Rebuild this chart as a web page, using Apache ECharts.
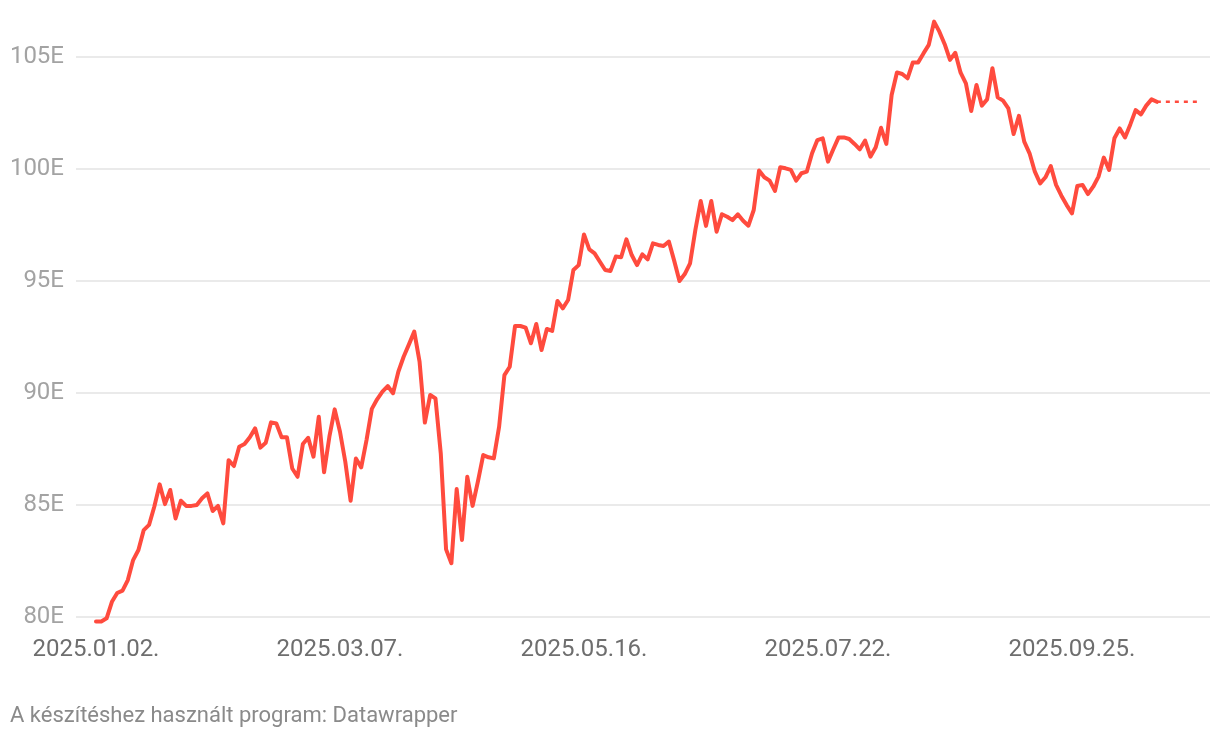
<!DOCTYPE html>
<html>
<head>
<meta charset="utf-8">
<script src="https://cdn.jsdelivr.net/npm/echarts@6/dist/echarts.min.js"></script>
<style>
html,body{margin:0;padding:0;background:#fff;}
#chart{width:1220px;height:738px;}
</style>
</head>
<body>
<div id="chart"></div>
<script>
// Trading-day index of each x tick and its label
var tickIndex = [0, 46, 92, 138, 184];
var tickLabels = ['2025.01.02.', '2025.03.07.', '2025.05.16.', '2025.07.22.', '2025.09.25.'];
var yTicks = [80000, 85000, 90000, 95000, 100000, 105000];

// Index values (one per trading day, from 2025.01.02.)
var values = [
  79800, 79800, 79940, 80680, 81070, 81180, 81650, 82540, 82990, 83880,
  84110, 84930, 85920, 85040, 85670, 84400, 85190, 84960, 84960, 85000,
  85300, 85520, 84730, 84960, 84180, 87000, 86740, 87600, 87720, 88020,
  88420, 87560, 87780, 88690, 88640, 88020, 88020, 86630, 86260, 87720,
  88000, 87160, 88940, 86460, 88050, 89270, 88270, 86930, 85190, 87080,
  86680, 87900, 89290, 89720, 90060, 90310, 89990, 90950, 91620, 92170,
  92740, 91400, 88680, 89910, 89760, 87300, 83020, 82400, 85710, 83440,
  86260, 84960, 86050, 87230, 87130, 87080, 88500, 90800, 91170, 92990,
  92990, 92920, 92220, 93080, 91920, 92860, 92770, 94110, 93780, 94150,
  95490, 95710, 97080, 96410, 96230, 95860, 95490, 95450, 96090, 96060,
  96860, 96160, 95710, 96190, 95970, 96680, 96610, 96560, 96760, 95910,
  95000, 95310, 95790, 97280, 98570, 97460, 98570, 97200, 97980, 97870,
  97720, 97980, 97690, 97470, 98170, 99930, 99630, 99480, 99020, 100080,
  100030, 99960, 99480, 99810, 99880, 100700, 101290, 101370, 100330, 100880,
  101410, 101410, 101340, 101120, 100880, 101270, 100550, 100970, 101840, 101120,
  103300, 104310, 104240, 104050, 104760, 104760, 105160, 105540, 106580, 106130,
  105570, 104870, 105190, 104300, 103820, 102590, 103750, 102830, 103110, 104500,
  103200, 103050, 102710, 101560, 102370, 101220, 100700, 99880, 99360, 99630,
  100130, 99290, 98810, 98390, 98020, 99240, 99290, 98880, 99210, 99660,
  100510, 99960, 101370, 101810, 101410, 101990, 102630, 102440, 102830, 103110,
  103000
];
// Dotted extension: last value carried to the end of the axis
var extensionDays = 8;

var solidData = values.map(function (v, i) { return [i, v]; });
var lastIdx = values.length - 1;
var dottedData = [];
for (var k = 0; k <= extensionDays; k++) {
  dottedData.push([lastIdx + k, values[lastIdx]]);
}

var chart = echarts.init(document.getElementById('chart'), null, {renderer: 'canvas'});
var fontFamily = 'Roboto, "Noto Sans", sans-serif';
var option = {
  animation: false,
  backgroundColor: '#ffffff',
  grid: {left: 76, right: 10, top: 57, bottom: 121, containLabel: false},
  xAxis: {
    type: 'value',
    min: -3.77,
    max: 210.02,
    axisLine: {show: false},
    axisTick: {show: false},
    splitLine: {show: false},
    axisLabel: {
      customValues: tickIndex,
      margin: 21,
      fontSize: 24,
      fontFamily: fontFamily,
      color: '#6e6e6e',
      formatter: function (v) {
        var p = tickIndex.indexOf(Math.round(v));
        return p >= 0 ? tickLabels[p] : '';
      }
    }
  },
  yAxis: {
    type: 'value',
    min: yTicks[0],
    max: yTicks[yTicks.length - 1],
    interval: 5000,
    axisLine: {show: false},
    axisTick: {show: false},
    splitLine: {lineStyle: {color: '#e3e3e3', width: 1.5}},
    axisLabel: {
      margin: 12,
      fontSize: 24,
      fontFamily: fontFamily,
      color: '#a3a3a3',
      formatter: function (v) { return (v / 1000) + 'E'; }
    }
  },
  series: [
    {
      type: 'line',
      data: solidData,
      showSymbol: false,
      clip: false,
      lineStyle: {color: '#ff4b3e', width: 4, join: 'round', cap: 'round'},
      z: 3
    },
    {
      type: 'line',
      data: dottedData,
      showSymbol: false,
      clip: false,
      lineStyle: {color: '#ff4b3e', width: 2.5, type: [4, 5]},
      z: 2
    }
  ],
  graphic: [
    {
      type: 'text',
      left: 10,
      top: 705,
      style: {
        text: 'A készítéshez használt program: Datawrapper',
        font: '22px Roboto, "Noto Sans", sans-serif',
        fill: '#8a8a8a'
      }
    }
  ]
};
chart.setOption(option);
</script>
</body>
</html>
